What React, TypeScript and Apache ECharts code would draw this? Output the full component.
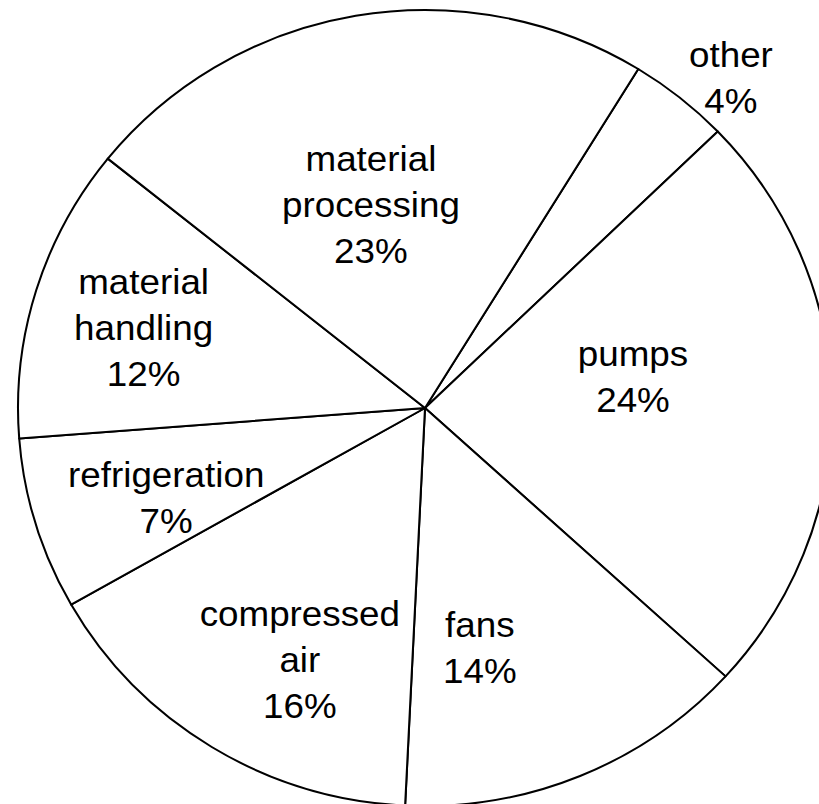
import React, { useEffect, useRef } from "react";
import * as echarts from "echarts";

// Share of motor-driven energy use by end use (per cent)
const categories = [
  "other",
  "pumps",
  "fans",
  "compressed air",
  "refrigeration",
  "material handling",
  "material processing",
];
const shares = [4, 24, 14, 16, 7, 12, 23];

// Label placement per slice: angle clockwise from 12 o'clock (deg) and
// distance from the centre as a fraction of the radius
const labelAngle = [42.2, 81.3, 167.4, 205.9, 250.4, 286.2, 345.4];
const labelRadius = [1.119, 0.517, 0.618, 0.704, 0.675, 0.72, 0.527];

const CX = 425;
const CY = 408;
const R = 398;
const STRETCH_X = 1.0226;

export default function App() {
  const ref = useRef<HTMLDivElement>(null);

  useEffect(() => {
    if (!ref.current) return;
    const chart = echarts.init(ref.current, undefined, { renderer: "svg" });
    chart.setOption({
      animation: false,
      backgroundColor: "#ffffff",
      series: [
        {
          type: "pie",
          center: [CX, CY],
          radius: R,
          startAngle: 58.4,
          clockwise: true,
          avoidLabelOverlap: false,
          silent: true,
          itemStyle: {
            color: "#ffffff",
            borderColor: "#000000",
            borderWidth: 2,
          },
          label: {
            show: true,
            position: "inside",
            color: "#000000",
            fontFamily: "Liberation Sans, Arial, sans-serif",
            fontSize: 36,
            lineHeight: 46,
            align: "center",
            formatter: (p: any) => `${String(p.name).split(" ").join("\n")}\n${p.value}%`,
          },
          labelLine: { show: false },
          labelLayout: (params: any) => {
            const i = params.dataIndex;
            const t = (labelAngle[i] * Math.PI) / 180;
            const d = R * labelRadius[i];
            return {
              x: CX + d * Math.sin(t),
              y: CY - d * Math.cos(t),
              align: "center",
              verticalAlign: "middle",
            };
          },
          emphasis: { disabled: true },
          data: categories.map((name, i) => ({ name, value: shares[i] })),
        },
      ],
    });
    return () => chart.dispose();
  }, []);

  return (
    <div
      style={{
        position: "absolute",
        left: 0,
        top: 0,
        width: 819,
        height: 804,
        overflow: "hidden",
        background: "#ffffff",
      }}
    >
      <div
        ref={ref}
        style={{
          width: 819,
          height: 804,
          transform: `scaleX(${STRETCH_X})`,
          transformOrigin: `${CX}px ${CY}px`,
        }}
      />
    </div>
  );
}
